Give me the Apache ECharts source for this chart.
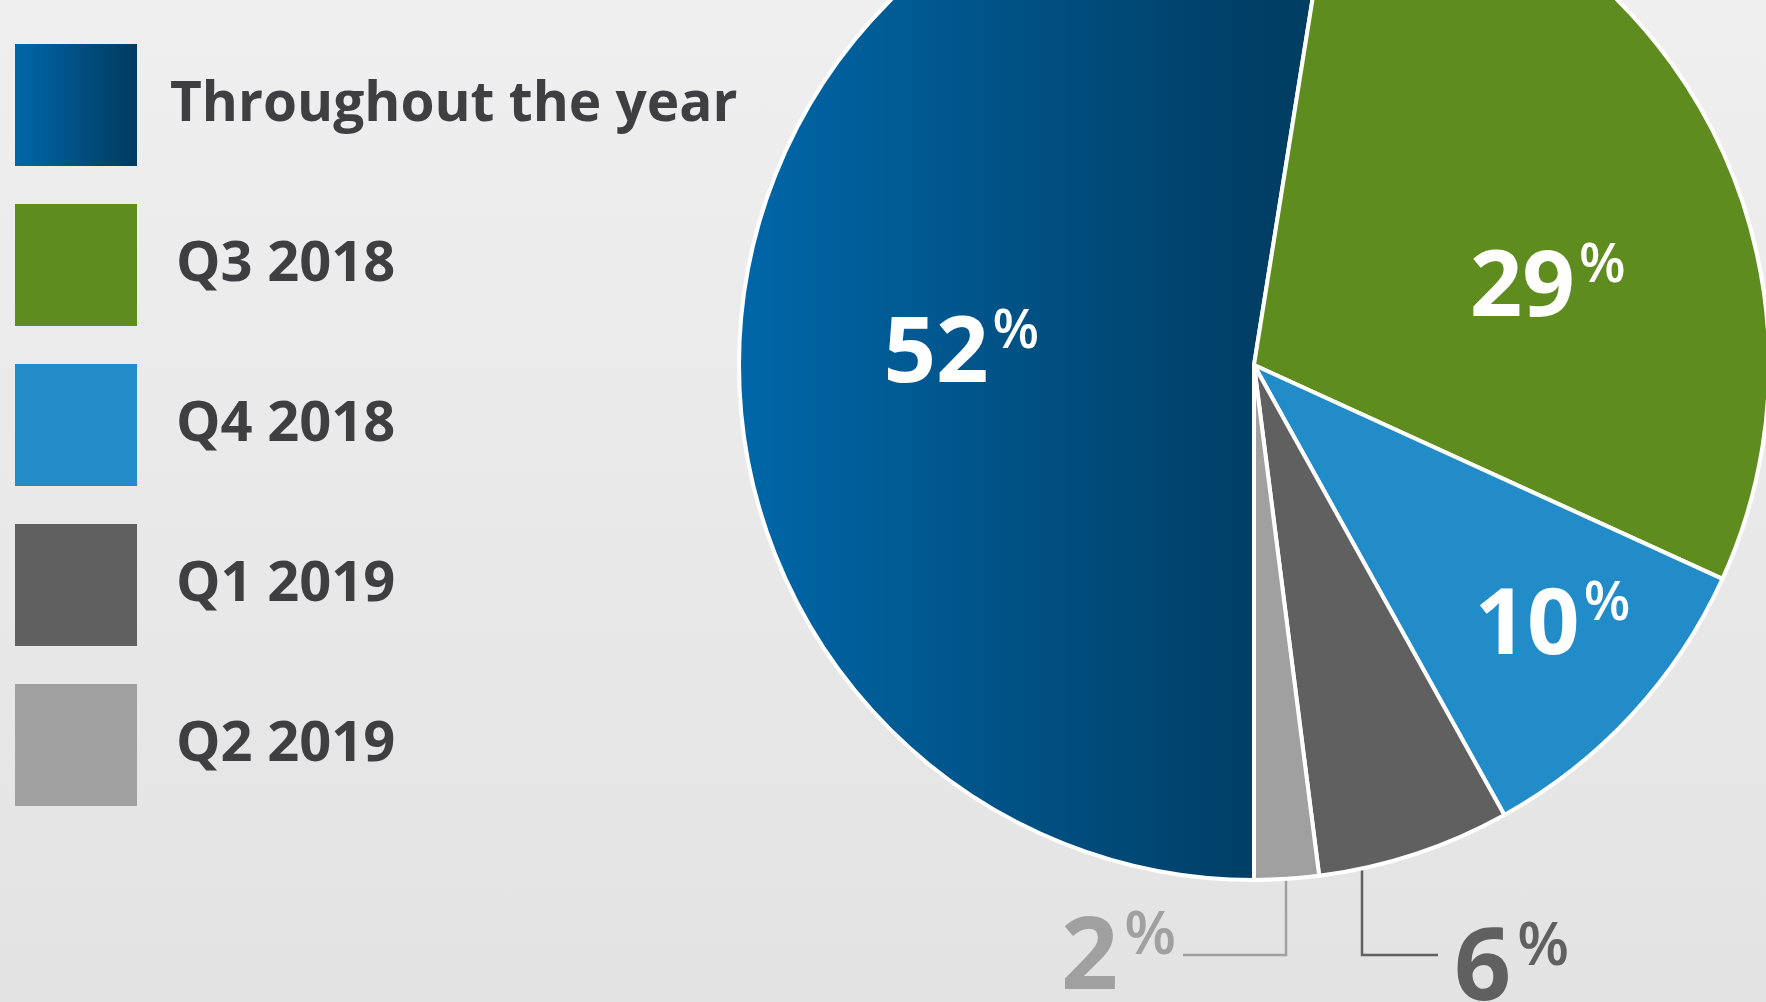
<!DOCTYPE html>
<html>
<head>
<meta charset="utf-8">
<script src="https://cdn.jsdelivr.net/npm/echarts@6/dist/echarts.min.js"></script>
<style>
html, body { margin: 0; padding: 0; }
body { background: linear-gradient(to bottom, #efefef, #e3e3e3); }
#chart { width: 1766px; height: 1002px; }
</style>
</head>
<body>
<div id="chart"></div>
<script>
// data
var periods = ['Throughout the year', 'Q3 2018', 'Q4 2018', 'Q1 2019', 'Q2 2019'];
var shares = [52, 29, 10, 6, 2];

// pie geometry (px)
var CX = 1254, CY = 365, R = 515;

var blueGrad = new echarts.graphic.LinearGradient(0, 0, 1, 0, [
	{ offset: 0, color: '#0067a9' },
	{ offset: 0.85, color: '#003f66' },
	{ offset: 1, color: '#003d62' }
]);
var legendGrad = new echarts.graphic.LinearGradient(0, 0, 1, 0, [
	{ offset: 0, color: '#0067a9' },
	{ offset: 1, color: '#003a5e' }
]);
var sliceColors = [blueGrad, '#5f8c1e', '#218cc8', '#606060', '#a0a0a0'];
var labelColors = ['#fff', '#fff', '#fff', '#606060', '#a0a0a0'];

// inside labels: shift from default spot; outside ones: elbow leader
var labelShift = [[-33, 11], [64, 48], [107, 86]];
var leaders = {
	3: { elbowX: 1362, lineY: 955, endX: 1438, textX: 1454, textDy: 17, align: 'left' },
	4: { elbowX: 1286, lineY: 955, endX: 1183, textX: 1176, textDy: 6, align: 'right' }
};

var chart = echarts.init(document.getElementById('chart'));

var seriesData = periods.map(function (name, i) {
	var item = {
		name: name,
		value: shares[i],
		itemStyle: { color: sliceColors[i] },
		label: { color: labelColors[i] }
	};
	if (leaders[i]) {
		item.label.position = 'outside';
		item.labelLine = {
			show: true,
			lineStyle: { color: labelColors[i], width: 2.5 }
		};
	}
	return item;
});

chart.setOption({
	backgroundColor: 'transparent',
	animation: false,
	legend: {
		orient: 'vertical',
		left: 15,
		top: 44,
		padding: 0,
		itemWidth: 122,
		itemHeight: 122,
		itemGap: 38,
		icon: 'rect',
		selectedMode: false,
		data: periods.map(function (p, i) {
			return {
				name: p,
				itemStyle: { color: i === 0 ? legendGrad : sliceColors[i], borderWidth: 0 },
				// quarter names sit a bit further in and lower
				textStyle: i === 0 ? {} : { padding: [14, 0, 0, 34], fontSize: 56 }
			};
		}),
		textStyle: {
			fontFamily: 'Open Sans',
			fontWeight: 'bold',
			fontSize: 55,
			color: '#3f3f41',
			padding: [0, 0, 0, 28]
		}
	},
	series: [
		{
			type: 'pie',
			center: [CX, CY],
			radius: R,
			startAngle: 270,
			clockwise: true,
			avoidLabelOverlap: false,
			silent: true,
			itemStyle: { borderColor: '#fff', borderWidth: 4 },
			label: {
				position: 'inside',
				formatter: function (p) {
					var big = leaders[p.dataIndex] ? 'N' : 'n';
					var small = leaders[p.dataIndex] ? 'P' : 'p';
					return '{' + big + '|' + p.value + '}{' + small + '|%}';
				},
				rich: {
					n: { fontFamily: 'Open Sans', fontWeight: 'bold', fontSize: 92, lineHeight: 100 },
					p: { fontFamily: 'Open Sans', fontWeight: 600, fontSize: 54, lineHeight: 54, verticalAlign: 'top', padding: [0, 0, 0, 4] },
					N: { fontFamily: 'Open Sans', fontWeight: 'bold', fontSize: 100, lineHeight: 108 },
					P: { fontFamily: 'Open Sans', fontWeight: 600, fontSize: 60, lineHeight: 60, verticalAlign: 'top', padding: [0, 0, 0, 6] }
				}
			},
			labelLayout: function (params) {
				var i = params.dataIndex;
				var ld = leaders[i];
				if (!ld) {
					return { dx: labelShift[i][0], dy: labelShift[i][1] };
				}
				var ay = CY + Math.sqrt(R * R - (ld.elbowX - CX) * (ld.elbowX - CX));
				return {
					x: ld.textX,
					y: ld.lineY + ld.textDy,
					align: ld.align,
					verticalAlign: 'middle',
					labelLinePoints: [[ld.elbowX, ay], [ld.elbowX, ld.lineY], [ld.endX, ld.lineY]]
				};
			},
			data: seriesData
		}
	]
});
</script>
</body>
</html>
